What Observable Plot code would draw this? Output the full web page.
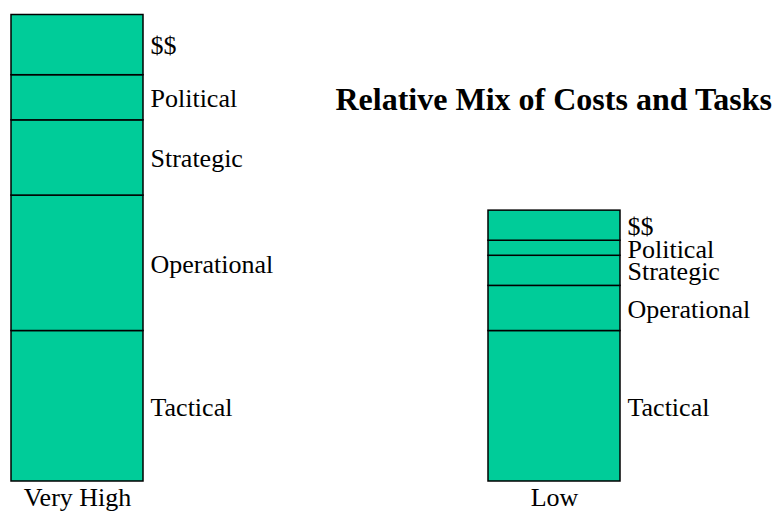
<!DOCTYPE html>
<html><head><meta charset="utf-8">
<script src="https://cdn.jsdelivr.net/npm/d3@7"></script>
<script src="https://cdn.jsdelivr.net/npm/@observablehq/plot@0.6"></script>
<style>body{margin:0;background:#fff;}</style>
</head><body><div id="chart"></div>
<script>
const categories = ["Very High", "Low"];
const tasks = ["Tactical", "Operational", "Strategic", "Political", "$$"];
const veryHighMix = [10, 9, 5, 3, 4];
const lowMix = [10, 3, 2, 1, 2];
const title = "Relative Mix of Costs and Tasks";

const rows = [];
[veryHighMix, lowMix].forEach((vals, i) =>
  tasks.forEach((t, j) => rows.push({category: categories[i], task: t, value: vals[j]})));

const font = "'Liberation Serif', 'Times New Roman', serif";
const chart = Plot.plot({
  width: 775, height: 512,
  marginLeft: 10, marginRight: 155, marginTop: 14.5, marginBottom: 31,
  style: {fontFamily: font, background: "#fff", color: "#000"},
  x: {domain: categories, paddingInner: 0.7238, paddingOuter: 0, axis: null},
  y: {domain: [0, 31], axis: null},
  marks: [
    Plot.barY(rows, Plot.stackY({x: "category", y: "value", fill: "#00CC99", stroke: "#000", strokeWidth: 1.5})),
    Plot.text(rows, Plot.stackY({x: "category", y: "value", text: "task", textAnchor: "start", dx: 73, dy: 1, fontSize: 26, fill: "#000"})),
    Plot.axisX({tickSize: 0, tickPadding: 6, fontSize: 26, fill: "#000", label: null}),
    Plot.text([title], {text: d => d, frameAnchor: "top-left", textAnchor: "start", lineAnchor: "bottom", dx: 325, dy: 94.5, fontSize: 32, fontWeight: "bold", fill: "#000"})
  ]
});
document.getElementById("chart").append(chart);
</script>
</body></html>
